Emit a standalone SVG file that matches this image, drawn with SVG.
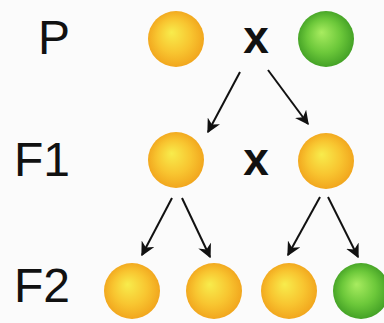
<svg xmlns="http://www.w3.org/2000/svg" width="384" height="323" viewBox="0 0 384 323">
<defs>
<radialGradient id="gy" cx="0.5" cy="0.5" r="0.55" fx="0.42" fy="0.38">
<stop offset="0" stop-color="#f8ec4c"/>
<stop offset="0.55" stop-color="#f8c530"/>
<stop offset="1" stop-color="#f0a01a"/>
</radialGradient>
<radialGradient id="gg" cx="0.5" cy="0.5" r="0.55" fx="0.42" fy="0.38">
<stop offset="0" stop-color="#a8ec60"/>
<stop offset="0.55" stop-color="#6cc83a"/>
<stop offset="1" stop-color="#3c9a22"/>
</radialGradient>
<marker id="ah" viewBox="0 0 10 10" refX="9" refY="5" markerWidth="7" markerHeight="7" orient="auto" markerUnits="strokeWidth">
<path d="M0,0 L10,5 L0,10 L3,5 Z" fill="#111"/>
</marker>
</defs>
<style>
.lbl{font-family:"Liberation Sans",Arial,sans-serif;font-size:48px;fill:#111}
.x{font-family:"Liberation Sans",Arial,sans-serif;font-size:46px;font-weight:bold;fill:#111}
.y{fill:url(#gy)}
.g{fill:url(#gg)}
.arr{stroke:#111;stroke-width:2;fill:none;marker-end:url(#ah)}
</style>
<rect width="384" height="323" fill="#fbfbfb"/>
<text class="lbl" x="38" y="54">P</text>
<text class="lbl" x="14" y="176">F1</text>
<text class="lbl" x="14" y="302">F2</text>
<g id="p-yellow"><circle class="y" cx="176" cy="39" r="28"/></g>
<g id="p-cross"><text class="x" x="256" y="53" text-anchor="middle">x</text></g>
<g id="p-green"><circle class="g" cx="326" cy="39" r="28"/></g>
<g id="f1-left"><circle class="y" cx="176" cy="160" r="28"/></g>
<g id="f1-cross"><text class="x" x="256" y="175" text-anchor="middle">x</text></g>
<g id="f1-right"><circle class="y" cx="326" cy="161" r="28"/></g>
<g id="f2-1"><circle class="y" cx="132" cy="291" r="28"/></g>
<g id="f2-2"><circle class="y" cx="214" cy="291" r="28"/></g>
<g id="f2-3"><circle class="y" cx="289" cy="291" r="28"/></g>
<g id="f2-4"><circle class="g" cx="361" cy="291" r="28"/></g>
<g id="connectors">
<line class="arr" x1="240" y1="72" x2="208" y2="132"/>
<line class="arr" x1="268" y1="70" x2="308" y2="124"/>
<line class="arr" x1="172" y1="198" x2="142" y2="255"/>
<line class="arr" x1="182" y1="198" x2="210" y2="257"/>
<line class="arr" x1="320" y1="197" x2="288" y2="255"/>
<line class="arr" x1="328" y1="197" x2="358" y2="257"/>
</g>
</svg>
